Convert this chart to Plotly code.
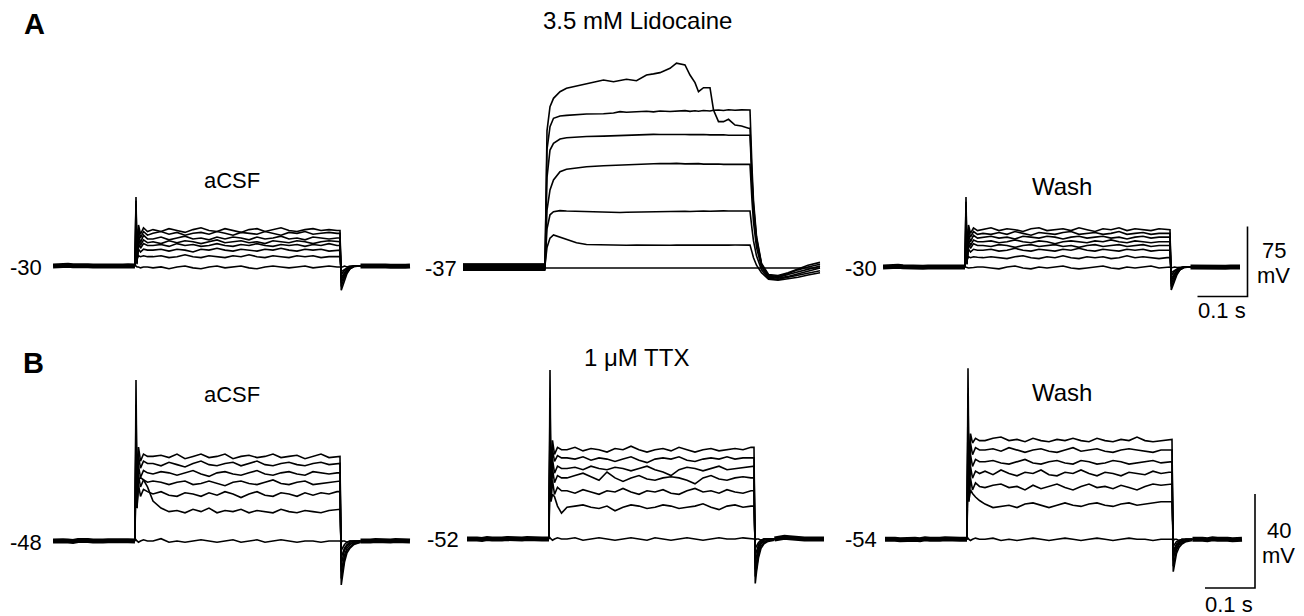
import plotly.graph_objects as go

W, H = 1304, 616
PX_PER_S = 500.0
PX_PER_MV_A = 70.0 / 75.0
PX_PER_MV_B = 94.0 / 40.0

# ---------------- time grids (s) ----------------
T_PRE = [0.000, 0.010, 0.020, 0.030, 0.040, 0.050, 0.060, 0.070, 0.080, 0.090,
         0.100, 0.110, 0.120, 0.130, 0.140, 0.150, 0.164]
T_ON = [0.164, 0.166, 0.168, 0.171, 0.175, 0.181, 0.189]
T_STEP = [0.200, 0.216, 0.232, 0.248, 0.264, 0.280, 0.296, 0.312, 0.328, 0.344,
          0.360, 0.376, 0.392, 0.408, 0.424, 0.440, 0.456, 0.472, 0.488, 0.504,
          0.520, 0.536, 0.552, 0.568]
T_OFF = [0.574, 0.5765, 0.579, 0.583, 0.588, 0.594, 0.602, 0.615]
T_POST = [0.615, 0.625, 0.635, 0.645, 0.655, 0.665, 0.675, 0.685, 0.695, 0.705, 0.714]

T_L_STEP = [0.164, 0.168, 0.174, 0.181, 0.194, 0.207, 0.227, 0.247, 0.281, 0.301,
            0.314, 0.327, 0.347, 0.367, 0.381, 0.394, 0.414, 0.427, 0.444, 0.454,
            0.464, 0.471, 0.481, 0.494, 0.501, 0.511, 0.521, 0.531, 0.544, 0.557, 0.571]
T_L_OFF = [0.574, 0.578, 0.581, 0.587, 0.597, 0.611, 0.630, 0.650, 0.670, 0.690, 0.714]

# ---------------- A: aCSF (mV) ----------------
A1_BASE_PRE = [-30, -29.7, -29, -29.2, -29.8, -30.2, -30, -29.8, -30, -30.2, -30, -29.8,
               -30, -30.2, -30, -29.8, -30]
A1_BASE_POST = [-30, -29.8, -30.2, -30, -29.8, -30, -30.2, -29.8, -30, -30.2, -30]
A1_ON = [
    [-30, 44, -22, 14, 4, 11, 7],
    [-30, 40, -26, 10, 0, 7, 3],
    [-30, 36, -28, 4, -5, 3, -1],
    [-30, 20, -27, -1, -8, -2, -5],
    [-30, 5, -25, -6, -11, -6, -8],
    [-30, -10, -24, -12, -15, -12, -13],
    [-30, -18, -22, -19, -20, -19, -20],
    [-30, -30, -31, -31, -32, -31, -31],
]
A1_STEP = [
    [9, 7, 10, 8, 6, 9, 11, 8, 7, 10, 8, 6, 9, 10, 7, 9, 11, 8, 7, 9, 10, 8, 9, 8],
    [5, 7, 4, 6, 3, 5, 6, 4, 7, 5, 3, 6, 5, 4, 7, 5, 3, 6, 5, 7, 4, 5, 6, 5],
    [-1, 1, -2, 0, 2, -1, 0, -2, 1, -1, 1, 0, -2, 1, -1, 0, 2, -1, 0, -2, 1, 0, -1, 0],
    [-4, -6, -3, -5, -3, -4, -6, -4, -2, -5, -4, -3, -5, -4, -6, -3, -4, -5, -3, -4, -6, -4, -3, -4],
    [-8, -7, -9, -6, -8, -7, -9, -8, -6, -8, -9, -7, -8, -6, -8, -9, -7, -8, -7, -9, -7, -8, -6, -8],
    [-13, -12, -14, -12, -13, -15, -12, -13, -11, -13, -14, -12, -13, -14, -12, -13, -11, -13, -14, -12, -13, -12, -14, -13],
    [-20, -19, -21, -20, -18, -20, -21, -19, -20, -21, -19, -20, -18, -20, -21, -19, -20, -21, -19, -20, -19, -21, -20, -20],
    [-32, -31, -33, -31, -30, -32, -33, -31, -30, -32, -31, -30, -32, -33, -31, -30, -31, -32, -31, -30, -32, -31, -30, -31],
]
A1_OFF = [
    [8, -56, -52, -45, -38, -33, -30.5, -30],
    [5, -52, -48, -42, -37, -33, -30.5, -30],
    [0, -48, -45, -40, -36, -32, -30, -30],
    [-4, -45, -42, -38, -35, -32, -30, -30],
    [-8, -42, -40, -37, -34, -31, -30, -30],
    [-13, -39, -37, -35, -33, -31, -30, -30],
    [-20, -36, -35, -33, -32, -31, -30, -30],
    [-31, -31, -31, -30, -31, -30, -30, -30],
]

# ---------------- A: 3.5 mM Lidocaine (mV) ----------------
L_BASE = [-39, -33, -38, -36, -35, -34, -37]
L_STEP = [
    [-39, 110, 135.8, 144.8, 151.9, 155.5, 158.0, 160.9, 164.4, 162.6, 163.5, 165.2, 163.7, 169.8,
     171.0, 172.3, 177.0, 182.4, 180.5, 169.8, 161.6, 151.9, 156.2, 156.2, 132.3, 119.8, 119.8,
     122.3, 116.2, 115.1, 112.7],
    [-33, 90, 114.4, 123.4, 125.9, 126.5, 127.2, 128.0, 128.3, 129.0, 130.5, 129.8, 130.4, 131.0,
     130.3, 131.2, 130.6, 131.0, 131.6, 130.8, 131.5, 131.0, 131.7, 131.2, 132.0, 132.3, 131.8,
     132.5, 132.0, 132.4, 132.3],
    [-38, 60, 89.4, 96.6, 101.2, 102.5, 103.4, 103.9, 104.3, 104.8, 105.0, 105.3, 105.6, 106.0,
     106.2, 106.0, 106.3, 105.8, 106.1, 105.9, 106.2, 105.7, 106.0, 105.6, 105.8, 105.5, 105.7,
     105.3, 105.5, 105.2, 105.2],
    [-36, 25, 46.6, 57.3, 66.2, 68.8, 70.5, 71.5, 72.5, 73.0, 73.6, 74.0, 74.4, 75.0, 75.2, 75.0,
     74.8, 75.1, 74.6, 74.9, 74.5, 74.8, 74.3, 74.6, 74.2, 74.5, 74.0, 74.3, 74.0, 74.2, 74.0],
    [-35, 5, 20, 23.3, 24.5, 24.0, 23.6, 23.2, 22.8, 22.6, 22.5, 22.7, 23.0, 23.2, 23.4, 23.3,
     23.6, 23.5, 23.8, 23.6, 23.9, 23.7, 24.0, 23.8, 24.1, 23.9, 24.2, 24.0, 24.2, 24.1, 24.0],
    [-34, -15, -5, -1.6, -4.0, -7.0, -10.0, -11.8, -12.4, -12.6, -12.4, -12.7, -12.5, -12.8,
     -12.6, -12.4, -12.7, -12.5, -12.6, -12.4, -12.7, -12.5, -12.3, -12.6, -12.4, -12.5, -12.3,
     -12.5, -12.4, -12.6, -12.5],
    [-37, -37, -37.2, -37, -36.8, -37, -37.2, -37, -36.8, -37, -37.1, -37, -36.9, -37, -37.2,
     -37, -36.8, -37, -37.1, -37, -36.9, -37, -37.2, -37, -36.9, -37, -37.1, -37, -36.8, -37, -37],
]
L_OFF = [
    [112.7, 60, 30, -5, -33, -45, -46, -43, -39, -36, -33],
    [132.3, 70, 35, -3, -32, -44, -45, -42, -38, -34, -31],
    [105.2, 55, 25, -8, -34, -46, -47, -44, -41, -38, -35],
    [74.0, 35, 12, -15, -36, -47, -48, -46, -43, -40, -37],
    [24.0, 5, -8, -24, -39, -48, -49, -47, -45, -42.5, -40],
    [-12.5, -20, -26, -34, -42, -49, -50, -48.5, -47, -44.5, -42],
    [-37, -37, -37, -37.2, -37, -37, -37.2, -37, -37, -37.1, -37],
]

# ---------------- A: Wash (mV) ----------------
A3_BASE_PRE = [-30, -29.5, -29, -29.3, -29.8, -30.2, -30, -29.8, -30.2, -30, -29.8, -30,
               -30.2, -30, -29.8, -30, -30]
A3_BASE_POST = [-30, -30.2, -29.8, -30, -30.2, -29.8, -30, -30.2, -30, -29.8, -30]
A3_ON = [
    [-30, 45, -22, 15, 6, 12, 9],
    [-30, 40, -25, 11, 2, 8, 5],
    [-30, 35, -27, 6, -3, 4, 1],
    [-30, 20, -27, 0, -7, -1, -3],
    [-30, 5, -25, -5, -10, -5, -7],
    [-30, -10, -24, -11, -14, -11, -12],
    [-30, -18, -22, -19, -20, -19, -19.5],
    [-30, -30, -30.5, -31, -31, -30.5, -30],
]
A3_STEP = [
    [10, 12, 9, 11, 10, 8, 11, 12, 9, 10, 11, 9, 12, 10, 8, 11, 10, 12, 9, 11, 10, 9, 11, 10],
    [6, 5, 7, 5, 8, 6, 4, 7, 6, 5, 7, 8, 5, 6, 7, 5, 6, 8, 5, 6, 7, 5, 6, 6],
    [2, 3, 1, 2, 0, 3, 2, 1, 3, 2, 0, 2, 3, 1, 2, 3, 1, 2, 0, 2, 3, 1, 2, 2],
    [-3, -2, -4, -3, -1, -3, -4, -2, -3, -5, -3, -2, -3, -4, -2, -3, -1, -3, -4, -2, -3, -4, -3, -3],
    [-7, -8, -6, -7, -9, -7, -6, -8, -7, -6, -8, -7, -9, -7, -6, -8, -7, -6, -8, -7, -6, -8, -7, -7],
    [-12, -11, -13, -12, -10, -12, -13, -11, -12, -13, -11, -12, -10, -12, -13, -11, -12, -13, -11, -12, -11, -13, -12, -12],
    [-20, -19, -20, -21, -19, -18, -20, -21, -19, -20, -18, -20, -21, -19, -20, -19, -21, -20, -18, -20, -19, -20, -21, -20],
    [-30, -31, -32, -30, -29, -31, -32, -30, -31, -30, -29, -31, -32, -31, -30, -29, -31, -32, -30, -31, -30, -29, -31, -30],
]
A3_OFF = [
    [10, -54.6, -51, -45, -38, -33, -30.5, -30],
    [6, -51, -48, -42, -37, -33, -30.5, -30],
    [2, -48, -45, -40, -36, -32, -30, -30],
    [-3, -45, -42, -38, -35, -32, -30, -30],
    [-7, -42, -40, -37, -34, -31, -30, -30],
    [-12, -39, -37, -35, -33, -31, -30, -30],
    [-20, -36, -35, -33, -32, -31, -30, -30],
    [-30, -31, -30.5, -30, -30.5, -30, -30, -30],
]

# ---------------- B: aCSF (mV) ----------------
B1_BASE_PRE = [-48, -48.2, -47.9, -48, -48.2, -47.8, -47.6, -47.8, -48, -48.2, -48, -47.9,
               -48, -48.2, -48, -47.9, -48]
B1_BASE_POST = [-48, -48.2, -48, -47.8, -48, -48.2, -48, -47.8, -48, -48.2, -48]
B1_ON = [
    [-48, 20.5, -28, -8, -14, -11, -12],
    [-48, 10, -30, -12, -17, -14, -15],
    [-48, 2, -32, -16, -21, -18, -19],
    [-48, -2, -34, -20, -25, -22, -23],
    [-48, -5, -34, -24, -29, -26, -27],
    [-48, -10, -32, -22, -21, -22, -25],
    [-48, -47.5, -48, -48.5, -48, -47.5, -48],
]
B1_STEP = [
    [-12, -11.5, -12.5, -11, -13, -12, -11, -12.5, -12, -11, -13, -12, -11.5, -12.5, -12, -11, -12.5, -12, -11.5, -13, -12, -11, -12.5, -12],
    [-15, -16, -14.5, -15.5, -16.5, -15, -14, -15.5, -16, -15, -14.5, -16, -15, -14, -15.5, -16, -15, -14.5, -15.5, -16, -15, -14.5, -15.5, -15],
    [-19.5, -18.5, -19, -20, -19, -18, -19.5, -20.5, -19, -18.5, -19.5, -20, -19, -18, -19.5, -20, -19, -18.5, -19.5, -20, -18.5, -19, -19.5, -19],
    [-22.5, -23, -24, -23, -22.5, -24, -23.5, -22.5, -23.5, -24.5, -23, -22.5, -23.5, -24, -23, -22, -23.5, -24, -23, -22.5, -24, -23.5, -23, -22.5],
    [-28, -27, -28.5, -29, -27.5, -28, -29, -27.5, -28.5, -27, -28, -29.5, -28, -27, -28.5, -29, -27.5, -28, -29, -27.5, -28.5, -27.5, -28, -27],
    [-31, -34, -35.5, -35, -36, -34.5, -35.5, -34, -36, -35, -35.5, -34.5, -36, -35, -35.5, -36, -34.5, -35.5, -36, -35, -35.5, -36, -35, -34.5],
    [-48, -47, -48.5, -48, -48.5, -48, -47.5, -48, -48.5, -48, -47.5, -48.5, -48, -47.5, -48.5, -48, -47.5, -48, -48.5, -48, -48, -48.5, -48, -48],
]
B1_OFF = [
    [-12, -66.7, -63, -57, -53, -51, -49.5, -48.5],
    [-15, -64, -60, -55.5, -52, -50.5, -49, -48.5],
    [-19, -61, -57.5, -54, -51, -49.5, -48.5, -48],
    [-22.5, -58, -55, -52, -50, -49, -48.5, -48],
    [-27, -55, -53, -51, -49.5, -48.5, -48, -48],
    [-34.5, -52, -51, -49.5, -48.5, -48, -48, -48],
    [-48, -48.5, -48, -48, -48.5, -48, -48, -48],
]

# ---------------- B: 1 uM TTX (mV) ----------------
B2_BASE_PRE = [-52, -51.8, -52, -52.2, -51.8, -52, -52.2, -52, -51.8, -52, -52.2, -52,
               -51.8, -52, -52.2, -52, -52]
B2_BASE_POST = [-52, -51.6, -51.3, -51.5, -51.8, -51.8, -52, -52, -51.8, -52, -52]
B2_ON = [
    [-52, 19.9, -30, -10, -16, -13, -14],
    [-52, 8, -32, -14, -19, -16.5, -17.5],
    [-52, 0, -34, -18, -24, -21, -22],
    [-52, -5, -35, -22, -28, -25, -26],
    [-52, -10, -36, -27, -33, -30, -31.5],
    [-52, -15, -36, -33, -34, -38, -41],
    [-52, -51.5, -52, -52.5, -52, -51.5, -52],
]
B2_STEP = [
    [-14, -13, -14.5, -13.5, -14, -15, -13.5, -14, -12.5, -14, -15, -14, -13.5, -14.5, -13, -14, -15, -14, -13.5, -14.5, -14, -13.5, -14, -13],
    [-17.5, -18, -17, -18.5, -17.5, -18, -19, -18, -17, -18.5, -19.5, -18, -17.5, -18, -17, -18.5, -19, -18, -17.5, -18, -17, -18, -17.5, -17.5],
    [-22, -21.5, -22.5, -21, -22, -22.5, -21.5, -22, -23, -22, -21, -22.5, -23.5, -25, -22.5, -21.5, -22, -23, -22, -21, -22.5, -22, -21.5, -21],
    [-26, -25, -24, -25.5, -27, -23.5, -26, -27.5, -26, -25, -26.5, -27, -26, -25.5, -26, -27, -28.5, -26, -25, -26.5, -27, -26, -25.5, -26],
    [-31.5, -32.5, -31, -32, -33, -31.5, -32, -30.5, -32, -33, -31.5, -32, -31, -32.5, -33, -31.5, -30.5, -32, -31.5, -32.5, -31, -32, -32.5, -31.5],
    [-38.5, -38, -37.5, -38.5, -39, -38, -40, -38.5, -37.5, -38, -39, -38.5, -37.5, -38, -39, -38.5, -38, -37, -38.5, -39.5, -38, -37.5, -38.5, -38],
    [-52, -51.5, -52.5, -52, -51.5, -52, -52.5, -52, -51.5, -52, -52.5, -51.5, -52, -52.5, -52, -51.5, -52, -52.5, -52, -51.5, -52, -52, -51.5, -52],
]
B2_OFF = [
    [-13, -70.9, -66, -60, -56, -54, -53, -52.5],
    [-17.5, -68, -64, -58.5, -55, -53.5, -52.5, -52],
    [-21, -65, -61.5, -57, -54, -53, -52.5, -52],
    [-26, -62, -59, -55.5, -53.5, -52.5, -52, -52],
    [-31.5, -59, -57, -54.5, -53, -52, -52, -52],
    [-38, -56, -55, -53.5, -52.5, -52, -52, -52],
    [-52, -52.5, -52, -52, -52.5, -52, -52, -52],
]

# ---------------- B: Wash (mV) ----------------
B3_BASE_PRE = [-54, -53.8, -54, -54.2, -54, -53.8, -54, -54.2, -53.8, -54, -54.2, -54,
               -53.8, -54, -54.2, -54, -54]
B3_BASE_POST = [-54, -53.8, -54, -54.2, -53.8, -54, -53.8, -54, -54.2, -54, -54]
B3_ON = [
    [-54, 18.8, -30, -9, -13, -11, -12],
    [-54, 8, -33, -13, -18, -15, -16],
    [-54, 0, -35, -18, -23, -20, -21],
    [-54, -6, -37, -23, -28, -25, -26],
    [-54, -12, -38, -28, -33, -30, -31.5],
    [-54, -18, -37, -33, -34.5, -36, -37.5],
    [-54, -53.5, -54, -54.5, -54, -53.5, -54],
]
B3_STEP = [
    [-12, -11, -10.5, -12, -11.5, -12.5, -11, -12, -12.5, -11.5, -12, -11, -12, -12.5, -11, -12, -12.5, -11.5, -12, -10.5, -12, -12.5, -12, -11.5],
    [-16, -15.5, -16.5, -15, -16, -17, -16, -15.5, -16.5, -17, -16, -15, -16.5, -16, -15.5, -16.5, -17, -16, -15.5, -16, -16.5, -17, -16, -16],
    [-21, -20.5, -21.5, -22, -21, -20, -21.5, -22, -21, -20.5, -21.5, -22, -20.5, -21, -22, -21.5, -20.5, -21, -22, -21.5, -21, -20.5, -21.5, -21],
    [-25, -26.5, -24.5, -26, -27, -25.5, -26, -24.5, -26.5, -27, -25.5, -26, -24.5, -26, -27, -25.5, -26, -27, -25.5, -26, -26.5, -25, -26, -25.5],
    [-32, -31, -30.5, -32, -31.5, -33, -31, -32.5, -31.5, -30.5, -32, -33, -31.5, -30.5, -32, -31.5, -32.5, -31, -32, -33, -31.5, -30.5, -31, -30.5],
    [-39, -40.5, -40, -39.5, -40.5, -39, -38.5, -39.5, -40.5, -39.5, -38.5, -39.5, -40, -39, -38.5, -39.5, -40, -39, -38.5, -39.5, -39, -38.5, -38, -38],
    [-54, -53.5, -54.5, -54, -54.5, -54, -53.5, -54, -54.5, -54, -53.5, -54, -54.5, -54, -53.5, -54, -54.5, -54, -53.5, -54, -54, -54.5, -54, -54],
]
B3_OFF = [
    [-11.5, -67.8, -64, -60, -57.5, -56, -55, -54.5],
    [-16, -65.5, -62, -58.5, -56.5, -55.5, -54.5, -54],
    [-21, -63, -60, -57.5, -56, -55, -54.5, -54],
    [-25.5, -61, -58.5, -56.5, -55.5, -54.5, -54, -54],
    [-30.5, -59, -57.5, -56, -55, -54.5, -54, -54],
    [-38, -57, -56, -55, -54.5, -54, -54, -54],
    [-54, -54.5, -54, -54, -54.5, -54, -54, -54],
]

# scale bars (values)
SCALE_T = 0.1          # s
SCALE_V_A = 75         # mV
SCALE_V_B = 40         # mV

# ---------------- layout geometry (pixels) ----------------
PANELS = {
    1: dict(px0=53, span=0.72, vref=-30, pyref=266, k=PX_PER_MV_A, top=40, bot=300),
    2: dict(px0=463, span=0.72, vref=-37, pyref=268, k=PX_PER_MV_A, top=40, bot=300),
    3: dict(px0=883, span=0.745, vref=-30, pyref=267, k=PX_PER_MV_A, top=40, bot=300),
    4: dict(px0=53, span=0.72, vref=-48, pyref=541, k=PX_PER_MV_B, top=345, bot=600),
    5: dict(px0=467, span=0.72, vref=-52, pyref=539, k=PX_PER_MV_B, top=345, bot=600),
    6: dict(px0=885, span=0.745, vref=-54, pyref=539.3, k=PX_PER_MV_B, top=345, bot=600),
}

fig = go.Figure()
LW = 1.6
BLW = 5.0
COL = "black"


def add_line(k, x, y, width=LW):
    fig.add_trace(go.Scatter(x=x, y=y, mode="lines", xaxis=f"x{k}", yaxis=f"y{k}",
                             line=dict(color=COL, width=width), hoverinfo="skip",
                             showlegend=False))


def add_panel(k, base_pre, base_post, on, step, off):
    add_line(k, T_PRE, base_pre, BLW)
    add_line(k, T_POST, base_post, BLW)
    for i in range(len(on)):
        add_line(k, T_ON + T_STEP + T_OFF, on[i] + step[i] + off[i])


add_panel(1, A1_BASE_PRE, A1_BASE_POST, A1_ON, A1_STEP, A1_OFF)
add_panel(3, A3_BASE_PRE, A3_BASE_POST, A3_ON, A3_STEP, A3_OFF)
add_panel(4, B1_BASE_PRE, B1_BASE_POST, B1_ON, B1_STEP, B1_OFF)
add_panel(5, B2_BASE_PRE, B2_BASE_POST, B2_ON, B2_STEP, B2_OFF)
add_panel(6, B3_BASE_PRE, B3_BASE_POST, B3_ON, B3_STEP, B3_OFF)

# lidocaine panel
for i in range(len(L_STEP)):
    add_line(2, [0.0] + T_L_STEP + T_L_OFF, [L_BASE[i]] + L_STEP[i] + L_OFF[i])
for i in range(len(L_BASE)):
    add_line(2, [0.0, 0.164], [L_BASE[i], L_BASE[i]], 2.2)


def px_to_t(k, px):
    return (px - PANELS[k]["px0"]) / PX_PER_S


def py_to_v(k, py):
    p = PANELS[k]
    return p["vref"] + (p["pyref"] - py) / p["k"]


for k, cx, cy, dv in [(3, 1247.5, 296.5, SCALE_V_A), (6, 1255, 588, SCALE_V_B)]:
    t1 = px_to_t(k, cx)
    v0 = py_to_v(k, cy)
    add_line(k, [t1 - SCALE_T, t1, t1], [v0, v0, v0 + dv], 1.6)

layout = dict(width=W, height=H, margin=dict(l=0, r=0, t=0, b=0),
              paper_bgcolor="white", plot_bgcolor="white", showlegend=False)
for k, p in PANELS.items():
    x_end = p["px0"] + p["span"] * PX_PER_S
    layout[f"xaxis{k}" if k > 1 else "xaxis"] = dict(
        domain=[p["px0"] / W, x_end / W], range=[0, p["span"]], visible=False,
        fixedrange=True, anchor=f"y{k}")
    vbot = p["vref"] - (p["bot"] - p["pyref"]) / p["k"]
    vtop = p["vref"] + (p["pyref"] - p["top"]) / p["k"]
    layout[f"yaxis{k}" if k > 1 else "yaxis"] = dict(
        domain=[1 - p["bot"] / H, 1 - p["top"] / H], range=[vbot, vtop], visible=False,
        fixedrange=True, anchor=f"x{k}")
fig.update_layout(**layout)

FONT = "Liberation Sans, Arial, Helvetica, sans-serif"


def txt(s, px, py, size=22, bold=False, xanchor="center"):
    fig.add_annotation(x=px / W, y=1 - py / H, xref="paper", yref="paper",
                       text=(f"<b>{s}</b>" if bold else s),
                       showarrow=False, xanchor=xanchor, yanchor="middle",
                       font=dict(family=FONT, size=size, color="black"))


txt("A", 34.5, 24, 29, True)
txt("3.5 mM Lidocaine", 637, 21, 24)
txt("aCSF", 232, 181, 22)
txt("Wash", 1062, 186, 24)
txt("-30", 44, 267, xanchor="right")
txt("-37", 459, 268, xanchor="right")
txt("-30", 879, 268, xanchor="right")
txt("75", 1273.5, 250)
txt("mV", 1273.5, 275)
txt("0.1 s", 1222, 310)
txt("B", 33, 363, 29, True)
txt("aCSF", 232, 394, 22)
txt("1 μM TTX", 636, 357, 24)
txt("Wash", 1062, 392, 24)
txt("-48", 44, 542, xanchor="right")
txt("-52", 461, 539, xanchor="right")
txt("-54", 879, 539, xanchor="right")
txt("40", 1279, 530)
txt("mV", 1278, 555)
txt("0.1 s", 1229, 604)

fig.write_html("out.html", config={"displayModeBar": False, "staticPlot": True},
               post_script="document.body.style.margin='0px';document.body.style.overflow='hidden';")
